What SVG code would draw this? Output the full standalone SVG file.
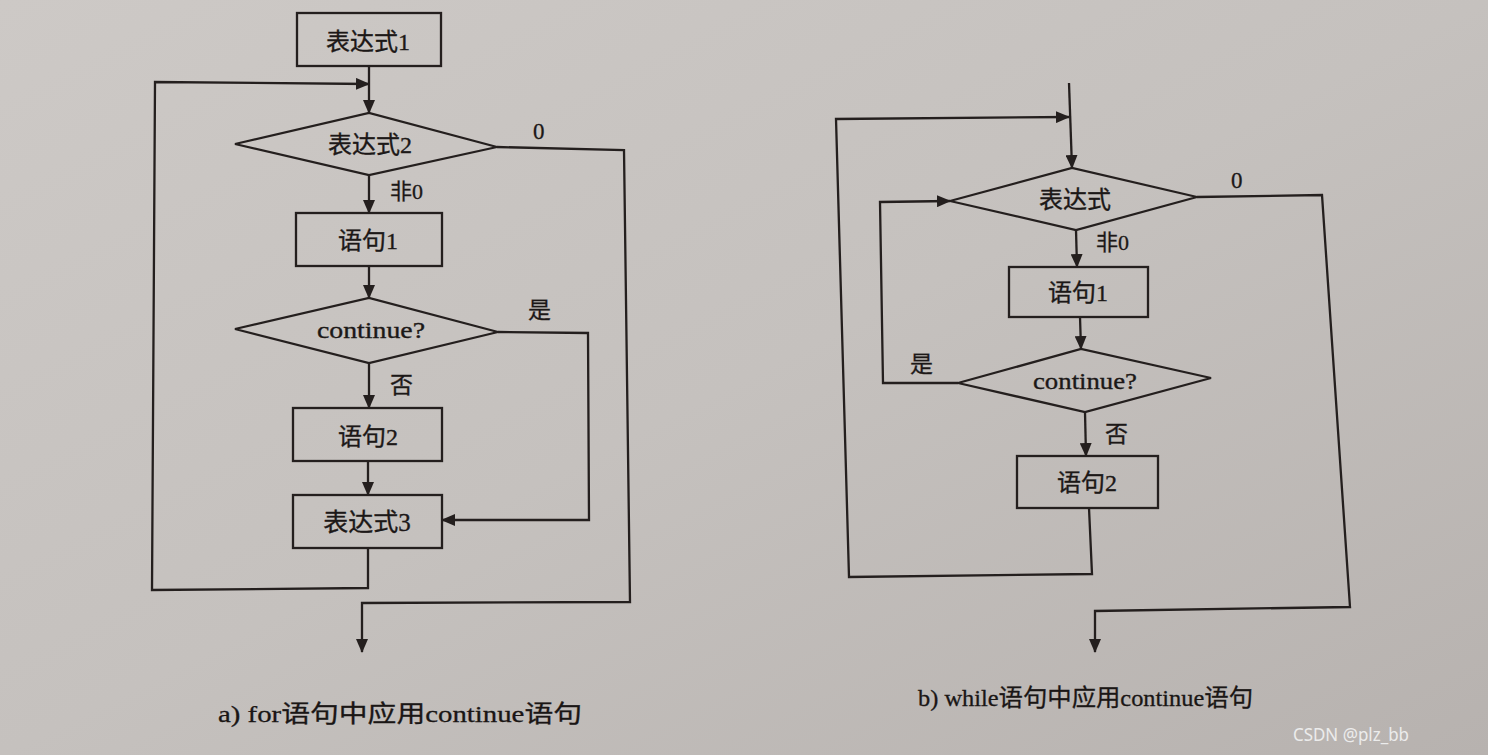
<svg xmlns="http://www.w3.org/2000/svg" width="1488" height="755" viewBox="0 0 1488 755">
<defs>
<linearGradient id="bg" x1="0" y1="0" x2="1" y2="1">
<stop offset="0" stop-color="#cdc9c6"/>
<stop offset="0.5" stop-color="#c5c1be"/>
<stop offset="1" stop-color="#b7b2af"/>
</linearGradient>
<marker id="arr" markerWidth="14" markerHeight="12" refX="13" refY="6" orient="auto" markerUnits="userSpaceOnUse">
<path d="M0,0 L14,6 L0,12 Z" fill="#241f1e"/>
</marker>
<style>
.shape{fill:none;stroke:#241f1e;stroke-width:2.3}
.line{fill:none;stroke:#241f1e;stroke-width:2.3}
.t{font-family:"Liberation Serif","Noto Sans CJK SC",serif;fill:#1c1817;stroke:#1c1817;stroke-width:0.35;text-anchor:middle}
.lab{font-family:"Liberation Serif","Noto Sans CJK SC",serif;fill:#1c1817;stroke:#1c1817;stroke-width:0.3}
.cap{font-family:"Liberation Serif","Noto Sans CJK SC",serif;fill:#1a1615;stroke:#1a1615;stroke-width:0.3;font-size:24px}
</style>
</defs>
<rect width="1488" height="755" fill="url(#bg)"/>

<!-- Diagram a -->
<g id="a_expr1"><rect class="shape" x="297" y="13" width="144" height="53"/><text class="t" x="368" y="50" font-size="24">表达式1</text></g>
<g id="a_expr2"><polygon class="shape" points="235,144 369,113 497,147 369,175"/><text class="t" x="370" y="153" font-size="24">表达式2</text></g>
<g id="a_stmt1"><rect class="shape" x="296" y="213" width="146" height="53"/><text class="t" x="368" y="249" font-size="24">语句1</text></g>
<g id="a_cont"><polygon class="shape" points="235,329 369,298 498,332 369,363"/><text class="t" x="371" y="338" font-size="24" textLength="108" lengthAdjust="spacingAndGlyphs">continue?</text></g>
<g id="a_stmt2"><rect class="shape" x="293" y="408" width="149" height="53"/><text class="t" x="368" y="445" font-size="24">语句2</text></g>
<g id="a_expr3"><rect class="shape" x="293" y="495" width="149" height="53"/><text class="t" x="367" y="531" font-size="25">表达式3</text></g>

<!-- Diagram b -->
<g id="b_expr"><polygon class="shape" points="950,201 1072,168 1197,197 1076,230"/><text class="t" x="1075" y="208" font-size="24">表达式</text></g>
<g id="b_stmt1"><rect class="shape" x="1009" y="267" width="139" height="50"/><text class="t" x="1078" y="301" font-size="24">语句1</text></g>
<g id="b_cont"><polygon class="shape" points="958,383 1081,349 1211,378 1085,412"/><text class="t" x="1085" y="389" font-size="24" textLength="104" lengthAdjust="spacingAndGlyphs">continue?</text></g>
<g id="b_stmt2"><rect class="shape" x="1017" y="456" width="141" height="52"/><text class="t" x="1087" y="491" font-size="24">语句2</text></g>

<g id="connectors">
<!-- a -->
<polyline class="line" points="369,66 369,113" marker-end="url(#arr)"/>
<polyline class="line" points="368,548 368,588 152,590 155,82 369,84" marker-end="url(#arr)"/>
<polyline class="line" points="369,175 369,213" marker-end="url(#arr)"/>
<polyline class="line" points="369,266 369,298" marker-end="url(#arr)"/>
<polyline class="line" points="369,363 369,408" marker-end="url(#arr)"/>
<polyline class="line" points="368,461 368,495" marker-end="url(#arr)"/>
<polyline class="line" points="498,332 588,333 589,520 442,520" marker-end="url(#arr)"/>
<polyline class="line" points="497,147 624,150 630,602 362,603 362,652" marker-end="url(#arr)"/>
<!-- b -->
<polyline class="line" points="1069,83 1072,168" marker-end="url(#arr)"/>
<polyline class="line" points="1089,508 1092,574 849,577 836,119 1069,117" marker-end="url(#arr)"/>
<polyline class="line" points="1076,230 1077,267" marker-end="url(#arr)"/>
<polyline class="line" points="1080,317 1081,349" marker-end="url(#arr)"/>
<polyline class="line" points="958,383 883,383 880,202 950,201" marker-end="url(#arr)"/>
<polyline class="line" points="1085,412 1086,456" marker-end="url(#arr)"/>
<polyline class="line" points="1197,197 1322,195 1350,607 1095,611 1095,652" marker-end="url(#arr)"/>
<!-- labels -->
<text class="lab" x="533" y="139" font-size="23">0</text>
<text class="lab" x="390" y="199" font-size="22">非0</text>
<text class="lab" x="528" y="318" font-size="23">是</text>
<text class="lab" x="390" y="393" font-size="23">否</text>
<text class="lab" x="1231" y="188" font-size="23">0</text>
<text class="lab" x="1096" y="250" font-size="22">非0</text>
<text class="lab" x="910" y="372" font-size="23">是</text>
<text class="lab" x="1105" y="442" font-size="23">否</text>
</g>

<text class="cap" x="218" y="722" textLength="364" lengthAdjust="spacingAndGlyphs">a) for语句中应用continue语句</text>
<text class="cap" x="918" y="706" textLength="335" lengthAdjust="spacingAndGlyphs">b) while语句中应用continue语句</text>
<text x="1293" y="741" font-family="'Noto Sans','Liberation Sans',sans-serif" font-size="18" fill="#ececec" textLength="116" lengthAdjust="spacingAndGlyphs">CSDN @plz_bb</text>
</svg>
